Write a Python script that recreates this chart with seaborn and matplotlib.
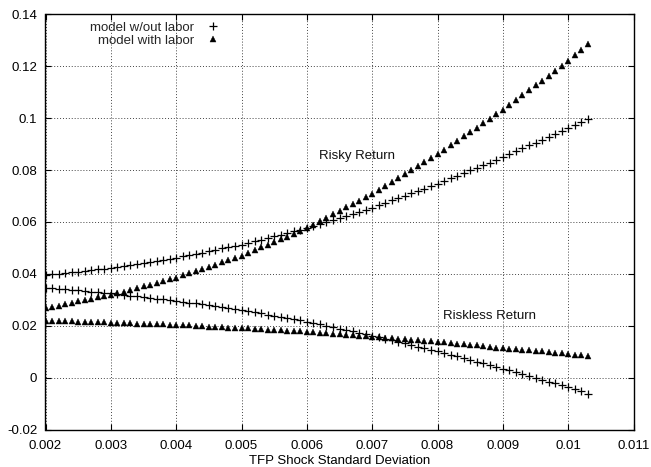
import matplotlib
matplotlib.use("Agg")
import matplotlib.pyplot as plt
import seaborn as sns
import pandas as pd

# ---- data ----
sigma = [0.0020, 0.0021, 0.0022, 0.0023, 0.0024, 0.0025, 0.0026, 0.0027, 0.0028, 0.0029,
         0.0030, 0.0031, 0.0032, 0.0033, 0.0034, 0.0035, 0.0036, 0.0037, 0.0038, 0.0039,
         0.0040, 0.0041, 0.0042, 0.0043, 0.0044, 0.0045, 0.0046, 0.0047, 0.0048, 0.0049,
         0.0050, 0.0051, 0.0052, 0.0053, 0.0054, 0.0055, 0.0056, 0.0057, 0.0058, 0.0059,
         0.0060, 0.0061, 0.0062, 0.0063, 0.0064, 0.0065, 0.0066, 0.0067, 0.0068, 0.0069,
         0.0070, 0.0071, 0.0072, 0.0073, 0.0074, 0.0075, 0.0076, 0.0077, 0.0078, 0.0079,
         0.0080, 0.0081, 0.0082, 0.0083, 0.0084, 0.0085, 0.0086, 0.0087, 0.0088, 0.0089,
         0.0090, 0.0091, 0.0092, 0.0093, 0.0094, 0.0095, 0.0096, 0.0097, 0.0098, 0.0099,
         0.0100, 0.0101, 0.0102, 0.0103]

risky_no_labor = [0.0395, 0.0398, 0.0401, 0.0403, 0.0406, 0.0409, 0.0412, 0.0415, 0.0417, 0.0420,
                  0.0423, 0.0427, 0.0431, 0.0435, 0.0439, 0.0443, 0.0446, 0.0450, 0.0454, 0.0458,
                  0.0462, 0.0467, 0.0472, 0.0477, 0.0482, 0.0488, 0.0493, 0.0498, 0.0503, 0.0508,
                  0.0513, 0.0519, 0.0526, 0.0532, 0.0539, 0.0545, 0.0551, 0.0558, 0.0564, 0.0571,
                  0.0577, 0.0585, 0.0593, 0.0600, 0.0608, 0.0616, 0.0624, 0.0632, 0.0639, 0.0647,
                  0.0655, 0.0664, 0.0673, 0.0683, 0.0692, 0.0701, 0.0710, 0.0719, 0.0729, 0.0738,
                  0.0747, 0.0757, 0.0768, 0.0778, 0.0788, 0.0799, 0.0809, 0.0819, 0.0829, 0.0840,
                  0.0850, 0.0861, 0.0872, 0.0884, 0.0895, 0.0906, 0.0917, 0.0928, 0.0940, 0.0951,
                  0.0962, 0.0974, 0.0987, 0.0999]

risky_labor = [0.0268, 0.0273, 0.0278, 0.0283, 0.0288, 0.0294, 0.0299, 0.0304, 0.0309, 0.0314,
               0.0319, 0.0326, 0.0332, 0.0339, 0.0346, 0.0353, 0.0359, 0.0366, 0.0373, 0.0379,
               0.0386, 0.0394, 0.0403, 0.0411, 0.0420, 0.0428, 0.0436, 0.0445, 0.0453, 0.0462,
               0.0470, 0.0481, 0.0491, 0.0502, 0.0512, 0.0523, 0.0534, 0.0544, 0.0555, 0.0565,
               0.0576, 0.0589, 0.0603, 0.0616, 0.0629, 0.0643, 0.0656, 0.0669, 0.0682, 0.0696,
               0.0709, 0.0724, 0.0739, 0.0755, 0.0770, 0.0785, 0.0800, 0.0815, 0.0831, 0.0846,
               0.0861, 0.0878, 0.0895, 0.0913, 0.0930, 0.0947, 0.0964, 0.0981, 0.0999, 0.1016,
               0.1033, 0.1052, 0.1070, 0.1089, 0.1108, 0.1127, 0.1145, 0.1164, 0.1183, 0.1201,
               0.1220, 0.1242, 0.1265, 0.1287]

riskless_no_labor = [0.0347, 0.0345, 0.0343, 0.0340, 0.0338, 0.0336, 0.0334, 0.0332, 0.0329, 0.0327,
                     0.0325, 0.0322, 0.0319, 0.0316, 0.0313, 0.0311, 0.0308, 0.0305, 0.0302, 0.0299,
                     0.0296, 0.0293, 0.0289, 0.0286, 0.0282, 0.0279, 0.0275, 0.0272, 0.0268, 0.0265,
                     0.0261, 0.0257, 0.0252, 0.0248, 0.0243, 0.0239, 0.0234, 0.0230, 0.0225, 0.0221,
                     0.0216, 0.0211, 0.0205, 0.0200, 0.0194, 0.0189, 0.0184, 0.0178, 0.0173, 0.0167,
                     0.0162, 0.0156, 0.0150, 0.0144, 0.0138, 0.0132, 0.0126, 0.0120, 0.0114, 0.0108,
                     0.0102, 0.0095, 0.0089, 0.0082, 0.0075, 0.0069, 0.0062, 0.0055, 0.0048, 0.0042,
                     0.0035, 0.0028, 0.0021, 0.0014, 0.0007, 0.0000, -0.0008, -0.0015, -0.0022, -0.0029,
                     -0.0036, -0.0045, -0.0053, -0.0062]

riskless_labor = [0.0220, 0.0219, 0.0218, 0.0218, 0.0217, 0.0216, 0.0215, 0.0214, 0.0214, 0.0213,
                  0.0212, 0.0211, 0.0210, 0.0209, 0.0208, 0.0208, 0.0207, 0.0206, 0.0205, 0.0204,
                  0.0203, 0.0202, 0.0201, 0.0199, 0.0198, 0.0197, 0.0196, 0.0195, 0.0193, 0.0192,
                  0.0191, 0.0190, 0.0188, 0.0187, 0.0185, 0.0184, 0.0183, 0.0181, 0.0180, 0.0178,
                  0.0177, 0.0175, 0.0173, 0.0171, 0.0169, 0.0168, 0.0166, 0.0164, 0.0162, 0.0160,
                  0.0158, 0.0156, 0.0154, 0.0152, 0.0150, 0.0148, 0.0146, 0.0144, 0.0142, 0.0140,
                  0.0138, 0.0136, 0.0133, 0.0131, 0.0128, 0.0126, 0.0124, 0.0121, 0.0119, 0.0116,
                  0.0114, 0.0112, 0.0110, 0.0107, 0.0105, 0.0103, 0.0101, 0.0099, 0.0096, 0.0094,
                  0.0092, 0.0089, 0.0087, 0.0084]

legend_labels = ["model w/out labor", "model with labor"]
x_ticks = [0.002, 0.003, 0.004, 0.005, 0.006, 0.007, 0.008, 0.009, 0.010, 0.011]
x_tick_labels = ["0.002", "0.003", "0.004", "0.005", "0.006", "0.007", "0.008", "0.009", "0.01", "0.011"]
y_ticks = [-0.02, 0.0, 0.02, 0.04, 0.06, 0.08, 0.10, 0.12, 0.14]
y_tick_labels = ["-0.02", "0", "0.02", "0.04", "0.06", "0.08", "0.1", "0.12", "0.14"]
annotations = [("Risky Return", 0.00677, 0.0855), ("Riskless Return", 0.0088, 0.0238)]
x_label = "TFP Shock Standard Deviation"

# ---- style ----
sns.set_theme(style="white")
plt.rcParams["font.family"] = ["Liberation Sans", "DejaVu Sans"]
plt.rcParams["font.size"] = 9.5

fig = plt.figure(figsize=(6.51, 4.67), dpi=100)
ax = fig.add_axes([45.5 / 651, 1 - 429.5 / 467, (633.5 - 45.5) / 651, (429.5 - 14.5) / 467])

df = pd.DataFrame({"sigma": sigma,
                   "risky_no_labor": risky_no_labor,
                   "risky_labor": risky_labor,
                   "riskless_no_labor": riskless_no_labor,
                   "riskless_labor": riskless_labor})

plus_kw = dict(marker="+", linestyle="", color="black", markersize=5.5,
               markeredgewidth=0.9, markeredgecolor="black")
tri_kw = dict(marker="^", linestyle="", color="black", markersize=4.2,
              markeredgewidth=0.3, markeredgecolor="black")

sns.lineplot(data=df, x="sigma", y="risky_no_labor", ax=ax, sort=False, estimator=None,
             label=legend_labels[0], **plus_kw)
sns.lineplot(data=df, x="sigma", y="risky_labor", ax=ax, sort=False, estimator=None,
             label=legend_labels[1], **tri_kw)
sns.lineplot(data=df, x="sigma", y="riskless_no_labor", ax=ax, sort=False, estimator=None,
             **plus_kw)
sns.lineplot(data=df, x="sigma", y="riskless_labor", ax=ax, sort=False, estimator=None,
             **tri_kw)

ax.set_xlim(0.002, 0.011)
ax.set_ylim(-0.02, 0.14)
ax.set_xticks(x_ticks)
ax.set_xticklabels(x_tick_labels)
ax.set_yticks(y_ticks)
ax.set_yticklabels(y_tick_labels)
ax.set_ylabel("")

ax.grid(True, linestyle=(0, (1, 2)), linewidth=0.7, color="#444444")
ax.tick_params(axis="both", which="major", direction="in", length=4, width=0.8,
               top=True, right=True, bottom=True, left=True, labelsize=9.5, pad=6,
               colors="black")
ax.tick_params(axis="x", pad=7.5)
for s in ax.spines.values():
    s.set_color("black")
    s.set_linewidth(1.0)

ax.set_xlabel("")
fig.text((45.5 + 633.5) / 2 / 651, 1 - 460.5 / 467, x_label, ha="center", va="center",
         fontsize=9.5, color="black")

for txt, xv, yv in annotations:
    ax.text(xv, yv, txt, ha="center", va="center", fontsize=9.5, color="#111111")

handles, labels = ax.get_legend_handles_labels()
leg = ax.legend(handles[:2], labels[:2], loc="upper right",
                bbox_to_anchor=(219.5 / 651, 1 - 21.5 / 467), bbox_transform=fig.transFigure,
                markerfirst=False, frameon=False, borderpad=0, borderaxespad=0,
                handlelength=1.0, handletextpad=0.9, labelspacing=0.05, fontsize=9.5)

fig.savefig("out.png", dpi=100)
